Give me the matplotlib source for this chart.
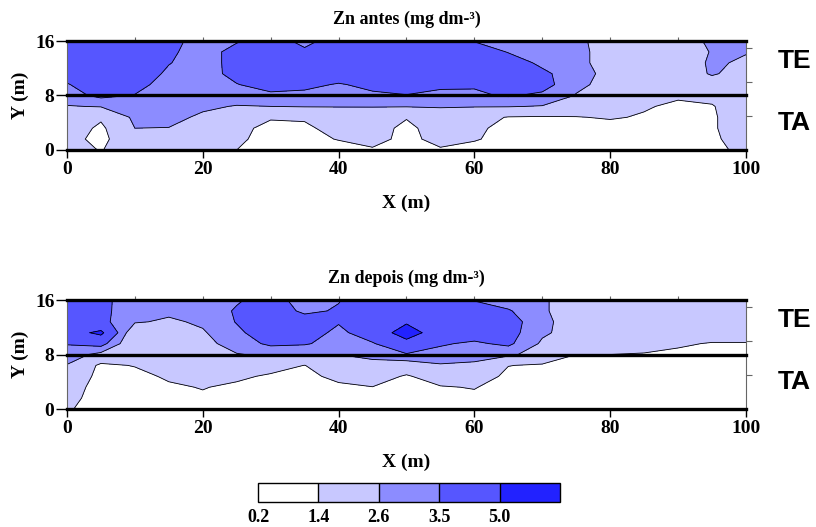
import numpy as np
import matplotlib
matplotlib.use("Agg")
from matplotlib import pyplot as plt

plt.rcParams["font.family"] = "Liberation Serif"
plt.rcParams["font.weight"] = "bold"

# sampling grid (m)
x_m = np.arange(0, 101, 5)
y_m = np.round(np.arange(0, 16.01, 1.6), 1)

# Zn (mg dm-3) at grid nodes, rows from Y = 0 up to Y = 16
zn_antes = [
    [1.8, 1.35, 2.0, 2.0, 1.9, 1.4, 1.0, 1.0, 1.0, 1.3, 1.0, 1.3, 1.0, 1.0, 1.0, 1.0, 1.0, 1.0, 1.0, 1.1, 1.7],
    [1.75, 1.1, 2.3, 2.3, 2.0, 1.6, 1.0, 1.1, 1.45, 1.7, 1.15, 1.7, 1.5, 1.0, 1.0, 1.0, 1.0, 1.0, 1.0, 1.25, 1.8],
    [2.0, 1.2, 2.6, 2.58, 2.1, 1.7, 1.1, 1.25, 1.7, 1.75, 1.2, 1.8, 1.6, 1.1, 1.0, 1.0, 1.0, 1.0, 1.0, 1.3, 1.9],
    [2.0, 1.55, 2.8, 2.85, 2.45, 1.9, 1.5, 1.5, 1.8, 1.9, 1.45, 1.9, 1.75, 1.35, 1.3, 1.35, 1.5, 1.3, 1.15, 1.3, 1.9],
    [2.55, 2.65, 2.9, 2.9, 2.75, 2.55, 2.6, 2.65, 2.65, 2.65, 2.65, 2.7, 2.65, 2.65, 2.55, 2.2, 1.8, 1.5, 1.2, 1.35, 1.9],
    [3.1, 3.75, 3.45, 3.0, 3.0, 3.05, 3.25, 3.2, 3.2, 3.3, 3.45, 3.25, 3.35, 3.6, 3.3, 2.55, 2.1, 1.8, 1.55, 1.6, 2.0],
    [3.4, 4.4, 3.9, 3.0, 2.95, 3.45, 4.0, 3.8, 3.4, 3.8, 4.1, 3.7, 3.6, 4.0, 3.9, 2.8, 2.3, 2.1, 2.0, 2.1, 2.1],
    [4.1, 4.5, 4.2, 3.3, 2.95, 3.9, 4.4, 4.5, 4.2, 4.4, 4.5, 4.3, 4.3, 4.2, 3.7, 3.0, 2.3, 2.0, 2.0, 2.7, 2.2],
    [4.5, 4.6, 4.3, 3.55, 3.0, 3.9, 4.4, 4.5, 4.6, 4.7, 4.6, 4.6, 4.4, 4.0, 3.3, 2.8, 2.3, 2.0, 2.0, 2.75, 2.45],
    [4.4, 4.5, 4.3, 3.7, 3.0, 3.9, 4.3, 3.7, 4.4, 4.6, 4.5, 4.4, 4.1, 3.45, 3.0, 2.8, 2.3, 2.0, 2.1, 2.65, 2.65],
    [4.3, 4.4, 4.3, 3.9, 3.0, 3.4, 4.0, 3.2, 4.0, 4.4, 4.4, 4.2, 3.45, 3.0, 2.95, 2.75, 2.3, 2.1, 2.2, 2.75, 3.1],
]

zn_depois = [
    [1.5, 1.0, 1.0, 1.0, 1.0, 1.0, 1.0, 1.0, 1.0, 1.0, 1.0, 1.0, 1.0, 1.0, 1.0, 1.0, 1.0, 1.0, 1.0, 1.0, 1.0],
    [1.7, 1.0, 1.0, 1.05, 1.25, 1.0, 1.0, 1.0, 1.0, 1.05, 1.0, 1.15, 1.2, 1.0, 1.0, 1.0, 1.0, 1.0, 1.0, 1.0, 1.0],
    [1.9, 1.0, 1.0, 1.25, 1.45, 1.2, 1.0, 1.0, 1.25, 1.38, 1.1, 1.33, 1.45, 1.0, 1.0, 1.0, 1.0, 1.0, 1.0, 1.0, 1.0],
    [2.2, 1.1, 1.1, 1.55, 1.8, 1.6, 1.25, 1.2, 1.6, 1.85, 1.3, 1.9, 1.9, 1.2, 1.0, 1.0, 1.0, 1.0, 1.0, 1.0, 1.0],
    [2.55, 1.2, 1.45, 2.0, 2.1, 2.1, 1.85, 1.38, 2.1, 2.3, 2.0, 2.5, 2.35, 1.42, 1.3, 1.1, 1.0, 1.0, 1.0, 1.0, 1.0],
    [3.1, 2.3, 2.0, 2.0, 2.1, 2.55, 2.75, 2.7, 2.6, 2.85, 3.4, 3.2, 3.1, 2.8, 2.1, 1.4, 1.4, 1.35, 1.25, 1.1, 1.1],
    [3.55, 3.9, 1.6, 1.9, 2.3, 3.0, 3.7, 3.6, 3.1, 3.4, 4.6, 3.6, 3.35, 3.7, 2.45, 2.0, 1.8, 1.7, 1.5, 1.35, 1.35],
    [4.4, 5.3, 1.7, 2.1, 2.5, 3.3, 4.1, 4.1, 3.2, 4.2, 5.6, 4.3, 4.0, 3.9, 2.75, 2.2, 2.0, 2.0, 1.9, 1.8, 1.8],
    [4.5, 3.8, 2.7, 2.45, 2.75, 3.55, 4.2, 4.0, 3.6, 4.3, 4.85, 4.4, 4.2, 4.0, 2.8, 2.2, 2.0, 2.0, 2.0, 2.0, 2.0],
    [4.4, 3.8, 2.85, 2.8, 2.95, 3.6, 4.1, 3.3, 3.6, 4.3, 4.4, 4.3, 4.0, 3.6, 2.7, 2.2, 2.0, 2.0, 2.0, 2.0, 2.0],
    [4.4, 3.75, 3.0, 2.95, 3.0, 3.4, 3.9, 3.1, 3.45, 4.1, 4.3, 4.1, 3.45, 3.0, 2.7, 2.2, 2.0, 2.0, 2.0, 2.0, 2.0],
]

levels = [0.2, 1.4, 2.6, 3.5, 5.0, 7.0]
level_labels = ["0.2", "1.4", "2.6", "3.5", "5.0"]
class_colors = ["#ffffff", "#c8c8ff", "#8c8cff", "#5656ff", "#2222ff"]
panels = [
    ("Zn antes (mg dm-\u00b3)", zn_antes),
    ("Zn depois (mg dm-\u00b3)", zn_depois),
]

fig = plt.figure(figsize=(8.16, 5.27), dpi=100)
axes_rects = [
    [0.0821, 0.7154, 0.8321, 0.2068],
    [0.0821, 0.2239, 0.8321, 0.2068],
]

for (title, zn), rect in zip(panels, axes_rects):
    ax = fig.add_axes(rect)
    zz = np.array(zn)
    cs = ax.contourf(x_m, y_m, zz, levels=levels, colors=class_colors)
    ax.contour(x_m, y_m, zz, levels=levels[1:-1], colors="black", linewidths=0.6)

    # layer limits: surface, 8 m divide, bottom
    for yl in (0, 8, 16):
        ax.axhline(yl, color="black", lw=2.4, clip_on=False, zorder=5)

    ax.set_xlim(0, 100)
    ax.set_ylim(0, 16)
    ax.set_xticks(np.arange(0, 101, 20))
    ax.set_yticks([0, 8, 16])
    ax.tick_params(axis="both", labelsize=14, length=6, width=1, direction="out", pad=2)
    ax.tick_params(axis="y", length=8, pad=1)
    for s in ("top", "bottom"):
        ax.spines[s].set_visible(False)
    ax.spines["left"].set_color("#666666")
    ax.spines["left"].set_linewidth(0.8)
    ax.spines["right"].set_color("#666666")
    ax.spines["right"].set_linewidth(0.8)

    top = ax.secondary_xaxis("top")
    top.set_xticks(np.arange(10, 100, 10))
    top.tick_params(length=3, color="#666666", labeltop=False)
    top.spines["top"].set_visible(False)
    right = ax.secondary_yaxis("right")
    right.set_yticks([5, 10, 15])
    right.tick_params(length=4, color="#666666", labelright=False)
    right.spines["right"].set_visible(False)

    ax.set_title(title, fontsize=13, fontweight="bold", pad=12)
    ax.set_xlabel("X (m)", fontsize=14, fontweight="bold", labelpad=12)
    ax.set_ylabel("Y (m)", fontsize=14, fontweight="bold", labelpad=4)

    ax.text(1.047, 13.0, "TE", transform=ax.get_yaxis_transform(), fontsize=19,
            fontweight="bold", family="Liberation Sans", va="center", ha="left")
    ax.text(1.047, 4.0, "TA", transform=ax.get_yaxis_transform(), fontsize=19,
            fontweight="bold", family="Liberation Sans", va="center", ha="left")

cax = fig.add_axes([0.3162, 0.0474, 0.3701, 0.036])
cb = fig.colorbar(cs, cax=cax, orientation="horizontal", drawedges=True)
cb.set_ticks(levels[:-1])
cb.set_ticklabels(level_labels)
cb.outline.set_linewidth(1.0)
cb.dividers.set_linewidth(1.0)
cax.tick_params(length=0, labelsize=13, pad=5)

fig.savefig("out.png", dpi=100)
